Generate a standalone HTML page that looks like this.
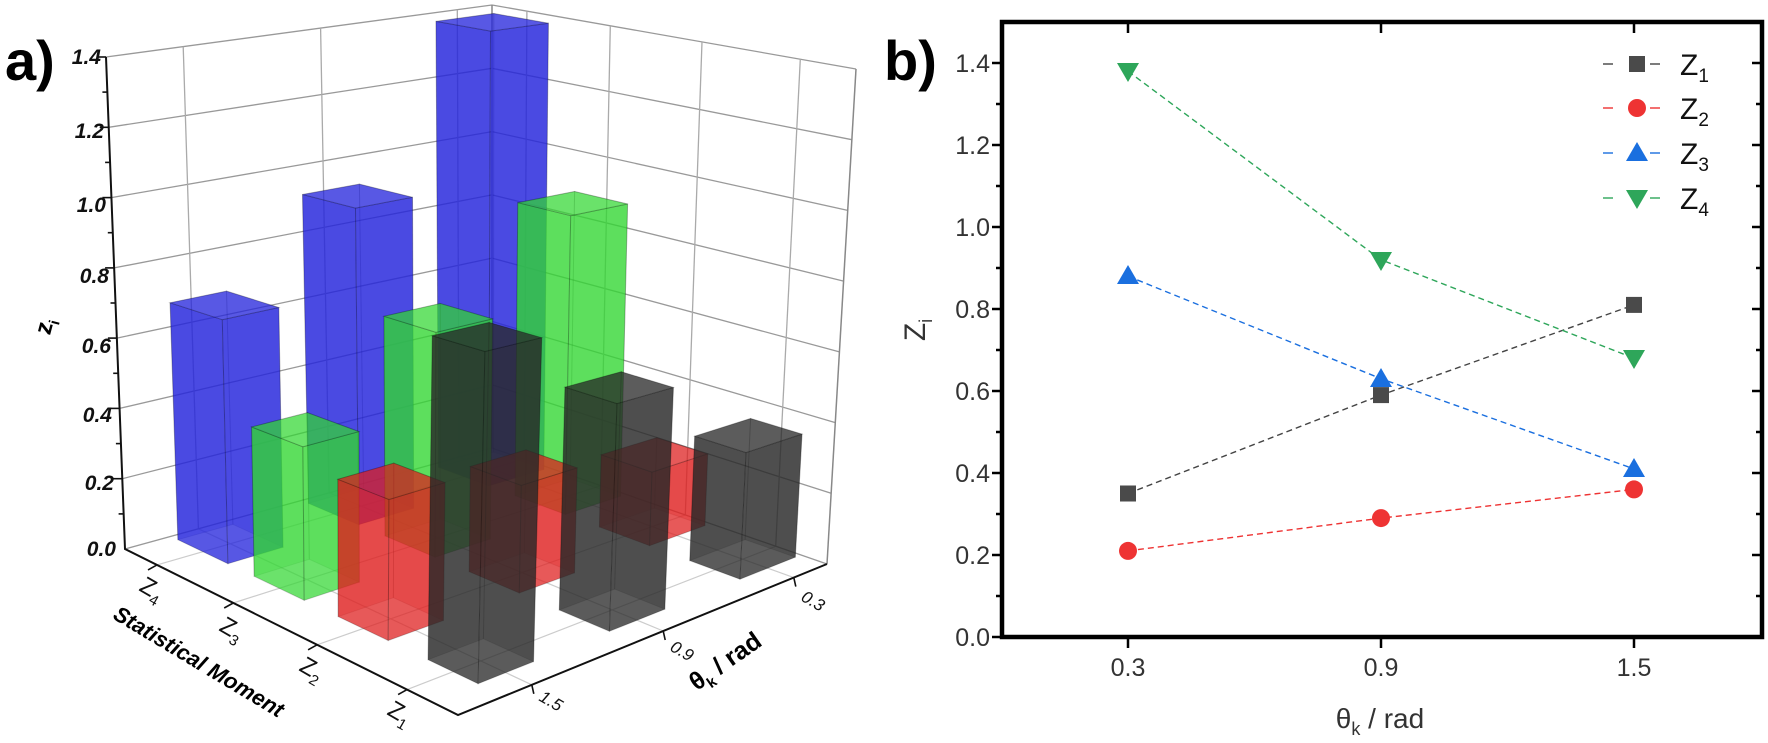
<!DOCTYPE html>
<html><head><meta charset="utf-8"><style>
html,body{margin:0;padding:0;background:#fff;}
svg{display:block;font-family:"Liberation Sans",sans-serif;}
</style></head><body>
<svg id="s" width="1768" height="743" viewBox="0 0 1768 743" xmlns="http://www.w3.org/2000/svg">
<g id="grid"></g>
<g id="bars"></g>
<g id="axes3d" stroke="#111" stroke-width="2" fill="none">
<polyline points="106,57 125,549 458,715 827,564"/>
</g>
<!-- panel a labels -->
<text x="5" y="80" font-size="56" font-weight="bold">a)</text>
<g font-size="21" font-weight="bold" font-style="italic" text-anchor="end" fill="#111">
<text x="101" y="64">1.4</text>
<text x="104" y="138">1.2</text>
<text x="106" y="212">1.0</text>
<text x="109" y="283">0.8</text>
<text x="111" y="353">0.6</text>
<text x="112" y="422">0.4</text>
<text x="114" y="490">0.2</text>
<text x="116" y="556">0.0</text>
</g>
<text transform="translate(52,328) rotate(-75)" font-size="24" font-weight="bold" text-anchor="middle">z<tspan font-size="15" dy="6">i</tspan></text>
<g font-size="24" fill="#111">
<text transform="translate(138,590) rotate(30)">Z<tspan font-size="15" dy="6">4</tspan></text>
<text transform="translate(218,630) rotate(30)">Z<tspan font-size="15" dy="6">3</tspan></text>
<text transform="translate(298,670) rotate(30)">Z<tspan font-size="15" dy="6">2</tspan></text>
<text transform="translate(386,714) rotate(30)">Z<tspan font-size="15" dy="6">1</tspan></text>
</g>
<text transform="translate(195,668) rotate(31)" font-size="22" font-weight="bold" font-style="italic" text-anchor="middle">Statistical Moment</text>
<g font-size="17" font-style="italic" fill="#111">
<text transform="translate(538,700) rotate(30)">1.5</text>
<text transform="translate(669,650) rotate(30)">0.9</text>
<text transform="translate(800,600) rotate(30)">0.3</text>
</g>
<text transform="translate(730,668) rotate(-35)" font-size="25" font-weight="bold" text-anchor="middle">θ<tspan font-size="15" dy="6">k</tspan><tspan dy="-6"> / rad</tspan></text>

<!-- panel b -->
<text x="884" y="80" font-size="56" font-weight="bold">b)</text>
<g stroke="#000" stroke-width="2.5">
<line x1="992" y1="637" x2="1002" y2="637"/><line x1="992" y1="555" x2="1002" y2="555"/><line x1="992" y1="473" x2="1002" y2="473"/><line x1="992" y1="391" x2="1002" y2="391"/><line x1="992" y1="309" x2="1002" y2="309"/><line x1="992" y1="227" x2="1002" y2="227"/><line x1="992" y1="145" x2="1002" y2="145"/><line x1="992" y1="63" x2="1002" y2="63"/>
<line x1="996" y1="596" x2="1002" y2="596"/><line x1="996" y1="514" x2="1002" y2="514"/><line x1="996" y1="432" x2="1002" y2="432"/><line x1="996" y1="350" x2="1002" y2="350"/><line x1="996" y1="268" x2="1002" y2="268"/><line x1="996" y1="186" x2="1002" y2="186"/><line x1="996" y1="104" x2="1002" y2="104"/>
<line x1="1752" y1="555" x2="1762" y2="555"/><line x1="1752" y1="473" x2="1762" y2="473"/><line x1="1752" y1="391" x2="1762" y2="391"/><line x1="1752" y1="309" x2="1762" y2="309"/><line x1="1752" y1="227" x2="1762" y2="227"/><line x1="1752" y1="145" x2="1762" y2="145"/><line x1="1752" y1="63" x2="1762" y2="63"/>
<line x1="1756" y1="596" x2="1762" y2="596"/><line x1="1756" y1="514" x2="1762" y2="514"/><line x1="1756" y1="432" x2="1762" y2="432"/><line x1="1756" y1="350" x2="1762" y2="350"/><line x1="1756" y1="268" x2="1762" y2="268"/><line x1="1756" y1="186" x2="1762" y2="186"/><line x1="1756" y1="104" x2="1762" y2="104"/>
<line x1="1128" y1="637" x2="1128" y2="648"/><line x1="1381" y1="637" x2="1381" y2="648"/><line x1="1634" y1="637" x2="1634" y2="648"/>
<line x1="1128" y1="22" x2="1128" y2="33"/><line x1="1381" y1="22" x2="1381" y2="33"/><line x1="1634" y1="22" x2="1634" y2="33"/>
</g>
<rect x="1002" y="22" width="760" height="615" fill="none" stroke="#000" stroke-width="4.5"/>
<g font-size="25" text-anchor="end" fill="#333">
<text x="990" y="646">0.0</text><text x="990" y="564">0.2</text><text x="990" y="482">0.4</text><text x="990" y="400">0.6</text><text x="990" y="318">0.8</text><text x="990" y="236">1.0</text><text x="990" y="154">1.2</text><text x="990" y="72">1.4</text>
</g>
<g font-size="25" text-anchor="middle" fill="#333">
<text x="1128" y="676">0.3</text><text x="1381" y="676">0.9</text><text x="1634" y="676">1.5</text>
</g>
<text x="1380" y="728" font-size="28" text-anchor="middle" fill="#333">θ<tspan font-size="18" dy="7">k</tspan><tspan dy="-7"> / rad</tspan></text>
<text transform="translate(925,330) rotate(-90)" font-size="30" text-anchor="middle" fill="#333">Z<tspan font-size="18" dy="7">i</tspan></text>

<g fill="none" stroke-width="1.4" stroke-dasharray="6,4">
<polyline stroke="#444" points="1128,493.5 1381,395.1 1634,304.9"/>
<polyline stroke="#ee3333" points="1128,550.9 1381,518.1 1634,489.4"/>
<polyline stroke="#1a6fdf" points="1128,276.2 1381,378.7 1634,468.9"/>
<polyline stroke="#2ea65a" points="1128,71.2 1381,259.8 1634,358.2"/>
</g>
<g fill="#4a4a4a">
<rect x="1120" y="485.5" width="16" height="16"/><rect x="1373" y="387.1" width="16" height="16"/><rect x="1626" y="296.9" width="16" height="16"/>
</g>
<g fill="#ee3333">
<circle cx="1128" cy="550.9" r="9"/><circle cx="1381" cy="518.1" r="9"/><circle cx="1634" cy="489.4" r="9"/>
</g>
<g fill="#1a6fdf">
<polygon points="1128,265 1117,284 1139,284"/><polygon points="1381,368 1370,387 1392,387"/><polygon points="1634,458 1623,477 1645,477"/>
</g>
<g fill="#2ea65a">
<polygon points="1128,82 1117,63 1139,63"/><polygon points="1381,271 1370,252 1392,252"/><polygon points="1634,369 1623,350 1645,350"/>
</g>
<!-- legend -->
<g stroke-width="1.4">
<line x1="1603" y1="64" x2="1613" y2="64" stroke="#444"/><line x1="1650" y1="64" x2="1660" y2="64" stroke="#444"/>
<line x1="1603" y1="108" x2="1613" y2="108" stroke="#ee3333"/><line x1="1650" y1="108" x2="1660" y2="108" stroke="#ee3333"/>
<line x1="1603" y1="153" x2="1613" y2="153" stroke="#1a6fdf"/><line x1="1650" y1="153" x2="1660" y2="153" stroke="#1a6fdf"/>
<line x1="1603" y1="198" x2="1613" y2="198" stroke="#2ea65a"/><line x1="1650" y1="198" x2="1660" y2="198" stroke="#2ea65a"/>
</g>
<rect x="1629" y="56" width="16" height="16" fill="#4a4a4a"/>
<circle cx="1637" cy="108" r="9" fill="#ee3333"/>
<polygon points="1637,142 1626,161 1648,161" fill="#1a6fdf"/>
<polygon points="1637,209 1626,190 1648,190" fill="#2ea65a"/>
<g font-size="30" fill="#111">
<text x="1680" y="75">Z<tspan font-size="19" dy="7">1</tspan></text>
<text x="1680" y="119">Z<tspan font-size="19" dy="7">2</tspan></text>
<text x="1680" y="164">Z<tspan font-size="19" dy="7">3</tspan></text>
<text x="1680" y="209">Z<tspan font-size="19" dy="7">4</tspan></text>
</g>
</svg>
<script>
(function(){
var NS="http://www.w3.org/2000/svg";
var F=[458,715],L=[125,549],R=[827,564],B=[492,448];
var Ft=[470,121],Lt=[106,57],Rt=[856,69],Bt=[492,5];
function bl(a,b,c,d,u,w,i){return a[i]*(1-u)*(1-w)+b[i]*u*(1-w)+c[i]*(1-u)*w+d[i]*u*w;}
function P(u,w,z){var k=z/1.4;var fx=bl(F,L,R,B,u,w,0),fy=bl(F,L,R,B,u,w,1),tx=bl(Ft,Lt,Rt,Bt,u,w,0),ty=bl(Ft,Lt,Rt,Bt,u,w,1);return [fx+(tx-fx)*k,fy+(ty-fy)*k];}
function el(g,tag,attrs){var e=document.createElementNS(NS,tag);for(var k in attrs)e.setAttribute(k,attrs[k]);g.appendChild(e);return e;}
function line(g,a,b,c,w){el(g,"line",{x1:a[0].toFixed(1),y1:a[1].toFixed(1),x2:b[0].toFixed(1),y2:b[1].toFixed(1),stroke:c,"stroke-width":w});}
var grid=document.getElementById("grid");
var us=[0.153,0.423,0.675,0.904], ws=[0.2,0.556,0.91];
// left wall u=1, right wall w=1
for(var z=0.2;z<=1.41;z+=0.2){line(grid,P(1,0,z),P(1,1,z),"#999",1.3);line(grid,P(1,1,z),P(0,1,z),"#999",1.3);}
ws.forEach(function(w){line(grid,P(1,w,0),P(1,w,1.4),"#aaa",1.3);line(grid,P(0,w,0),P(1,w,0),"#ccc",1.2);});
us.forEach(function(u){line(grid,P(u,1,0),P(u,1,1.4),"#aaa",1.3);line(grid,P(u,0,0),P(u,1,0),"#ccc",1.2);});
line(grid,P(1,1,0),P(1,1,1.4),"#888",1.5);
line(grid,P(0,1,0),P(0,1,1.4),"#888",1.5);
line(grid,P(1,0,0),P(1,1,0),"#999",1.3);line(grid,P(1,1,0),P(0,1,0),"#999",1.3);
// axis ticks
var ax=document.getElementById("axes3d");
us.forEach(function(u){var a=P(u,0,0);line(ax,a,[a[0]-9,a[1]+5],"#111",1.6);});
ws.forEach(function(w){var a=P(0,w,0);line(ax,a,[a[0]+2,a[1]+9],"#111",1.6);});
for(var z=0.1;z<1.41;z+=0.1){var a=P(1,0,z);var maj=Math.abs(z*5-Math.round(z*5))<0.01;line(ax,a,[a[0]-(maj?9:5),a[1]],"#111",1.6);}
// bars
var data=[[0.81,0.59,0.35],[0.36,0.29,0.21],[0.41,0.63,0.88],[0.68,0.92,1.38]];
var cols=[["rgb(40,40,40)",0.85],["rgb(222,30,30)",0.82],["rgb(50,215,50)",0.8],["rgb(35,35,220)",0.85]];
var list=[];
for(var i=0;i<4;i++)for(var j=0;j<3;j++)list.push([i,j]);
list.sort(function(a,b){return (us[b[0]]+ws[b[1]])-(us[a[0]]+ws[a[1]]);});
var bars=document.getElementById("bars");
var a=0.075,b=0.075;
function poly(pts,fill,op,stroke){el(bars,"polygon",{points:pts.map(function(p){return p[0].toFixed(1)+","+p[1].toFixed(1);}).join(" "),fill:fill,"fill-opacity":op,stroke:stroke,"stroke-width":1});}
list.forEach(function(ij){
 var i=ij[0],j=ij[1],u=us[i],w=ws[j],z=data[i][j],c=cols[i];
 var u0=u-a,u1=u+a,w0=w-b,w1=w+b;
 // back faces (faint)
 poly([P(u1,w0,0),P(u1,w1,0),P(u1,w1,z),P(u1,w0,z)],c[0],0.25,"rgba(0,0,0,0.15)");
 poly([P(u0,w1,0),P(u1,w1,0),P(u1,w1,z),P(u0,w1,z)],c[0],0.25,"rgba(0,0,0,0.15)");
 // front faces
 poly([P(u0,w0,0),P(u1,w0,0),P(u1,w0,z),P(u0,w0,z)],c[0],c[1]*0.9,"rgba(0,0,0,0.2)");
 poly([P(u0,w0,0),P(u0,w1,0),P(u0,w1,z),P(u0,w0,z)],c[0],c[1]*0.9,"rgba(0,0,0,0.2)");
 poly([P(u0,w0,z),P(u1,w0,z),P(u1,w1,z),P(u0,w1,z)],c[0],c[1]*0.8,"rgba(0,0,0,0.2)");
});
})();
</script>
</body></html>
